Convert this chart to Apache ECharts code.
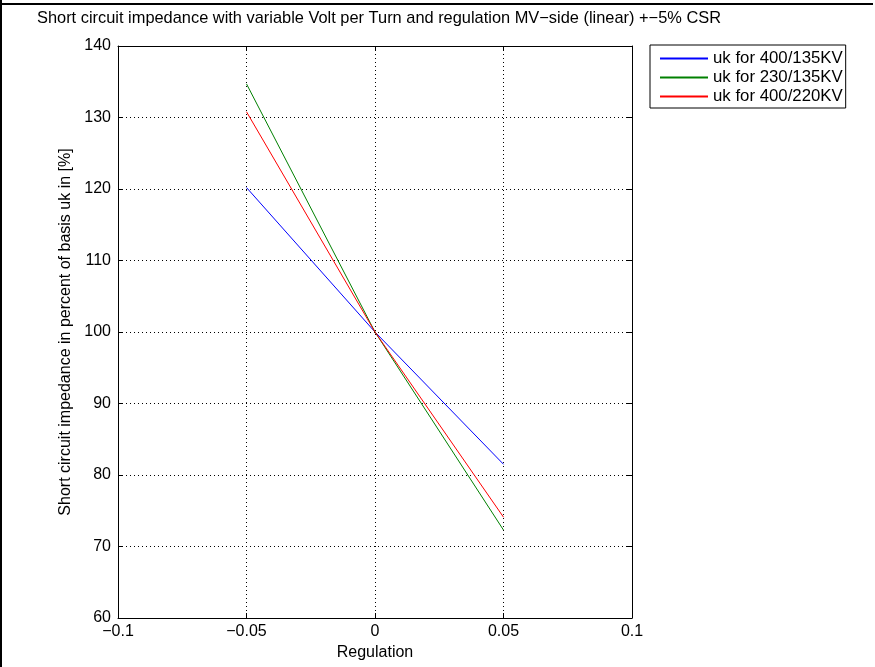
<!DOCTYPE html>
<html>
<head>
<meta charset="utf-8">
<script src="https://cdn.jsdelivr.net/npm/echarts@6/dist/echarts.min.js"></script>
<style>
  html, body { margin: 0; padding: 0; background: #fff; }
  #chart { width: 875px; height: 667px; }
</style>
</head>
<body>
<div id="chart"></div>
<script>
// Regulation steps (MV-side, linear) and resulting short-circuit impedance
const regulation = [-0.05, 0, 0.05];
const uk400_135 = [120.2, 100, 81.5];
const uk230_135 = [134.7, 100, 72.3];
const uk400_220 = [130.8, 100, 74.1];
const seriesNames = ['uk for 400/135KV', 'uk for 230/135KV', 'uk for 400/220KV'];
const seriesColors = ['#0000ff', '#008000', '#ff0000'];
const xTicks = { min: -0.1, max: 0.1, step: 0.05 };
const yTicks = { min: 60, max: 140, step: 10 };

const FONT = 'Liberation Sans, Arial, sans-serif';
const FS = 16;

function fmtX(v) {
  const r = Math.round(v * 1000) / 1000;
  return String(r).replace('-', '\u2212');
}

function pairs(ys) { return regulation.map((x, i) => [x, ys[i]]); }

const chart = echarts.init(document.getElementById('chart'), null, { renderer: 'canvas' });

const dotted = { color: '#000', width: 1, type: [1, 3] };
const baseAxis = {
  axisLine: { show: true, onZero: false, lineStyle: { color: '#000', width: 1 } },
  axisTick: { show: true, inside: true, length: 5, lineStyle: { color: '#000' } }
};

chart.setOption({
  animation: false,
  backgroundColor: '#fff',
  title: {
    text: 'Short circuit impedance with variable Volt per Turn and regulation MV\u2212side (linear) +\u22125% CSR',
    left: 32, top: 5,
    textStyle: { fontFamily: FONT, fontSize: 16.4, fontWeight: 'normal', color: '#000' }
  },
  legend: {
    orient: 'vertical',
    left: 650, top: 45,
    align: 'left',
    borderColor: '#000', borderWidth: 1, borderRadius: 0,
    padding: [5, 3, 3, 9],
    itemWidth: 48, itemHeight: 14, itemGap: 2,
    textStyle: { fontFamily: FONT, fontSize: 16.8, color: '#000' },
    data: seriesNames
  },
  grid: { left: 118, right: 243, top: 46, bottom: 49, containLabel: false },
  xAxis: [
    Object.assign({}, baseAxis, {
      type: 'value', position: 'bottom',
      min: xTicks.min, max: xTicks.max, interval: xTicks.step,
      name: 'Regulation', nameLocation: 'middle', nameGap: 26,
      nameTextStyle: { fontFamily: FONT, fontSize: FS, color: '#000' },
      axisLabel: { formatter: fmtX, fontFamily: FONT, fontSize: FS, color: '#000', margin: 6 },
      splitLine: { show: true, lineStyle: dotted }
    }),
    Object.assign({}, baseAxis, {
      type: 'value', position: 'top',
      min: xTicks.min, max: xTicks.max, interval: xTicks.step,
      axisLabel: { show: false }, splitLine: { show: false }
    })
  ],
  yAxis: [
    Object.assign({}, baseAxis, {
      type: 'value', position: 'left',
      min: yTicks.min, max: yTicks.max, interval: yTicks.step,
      name: 'Short circuit impedance in percent of basis uk in [%]',
      nameLocation: 'middle', nameGap: 36,
      nameTextStyle: { fontFamily: FONT, fontSize: FS, color: '#000' },
      axisLabel: { fontFamily: FONT, fontSize: FS, color: '#000', margin: 7 },
      splitLine: { show: true, lineStyle: dotted }
    }),
    Object.assign({}, baseAxis, {
      type: 'value', position: 'right',
      min: yTicks.min, max: yTicks.max, interval: yTicks.step,
      axisLabel: { show: false }, splitLine: { show: false }
    })
  ],
  series: [uk400_135, uk230_135, uk400_220].map((ys, i) => ({
    name: seriesNames[i],
    type: 'line',
    xAxisIndex: 0, yAxisIndex: 0,
    data: pairs(ys),
    // a flat 'line' marker keeps the legend swatch a plain stroke
    symbol: 'line', showSymbol: false,
    color: seriesColors[i],
    lineStyle: { color: seriesColors[i], width: 1 },
    z: 5
  })),
  graphic: [
    { type: 'rect', left: 0, top: 0, shape: { width: 2, height: 667 }, style: { fill: '#000' } },
    { type: 'rect', left: 0, top: 3, shape: { width: 873, height: 2 }, style: { fill: '#000' } }
  ]
});
</script>
</body>
</html>
